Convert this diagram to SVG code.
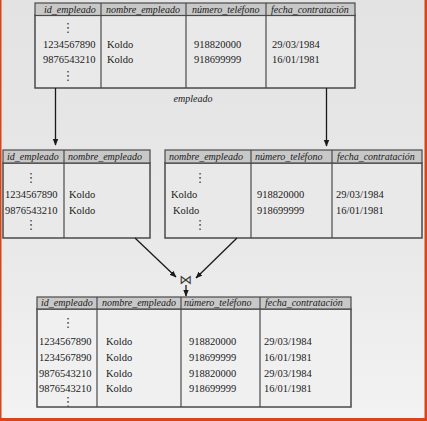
<svg xmlns="http://www.w3.org/2000/svg" width="427" height="421" viewBox="0 0 427 421">
  <defs>
    <linearGradient id="bg" x1="0" y1="0" x2="0" y2="1">
      <stop offset="0" stop-color="#e3e3e3"/>
      <stop offset="0.6" stop-color="#e9e9e9"/>
      <stop offset="1" stop-color="#f3f3f3"/>
    </linearGradient>
    <marker id="ah" viewBox="0 0 10 10" refX="9" refY="5" markerWidth="7" markerHeight="7" orient="auto" markerUnits="userSpaceOnUse">
      <path d="M0,1 L10,5 L0,9 Z" fill="#1a1a1a"/>
    </marker>
  </defs>
  <style>
    .hd { fill: #c8c8c8; stroke: #4a4a4a; stroke-width: 1.2; }
    .bd { fill: #e9e9e9; stroke: #4a4a4a; stroke-width: 1.5; }
    .bd2 { fill: #f0f0f0; stroke: #4a4a4a; stroke-width: 1.5; }
    .col { stroke: #4a4a4a; stroke-width: 1.2; }
    .h { font-family: "Liberation Serif", "Times New Roman", serif; font-style: italic; font-size: 10px; fill: #1a1a1a; }
    .t { font-family: "Liberation Serif", "Times New Roman", serif; font-size: 10.5px; fill: #1a1a1a; }
    .v { font-family: "DejaVu Sans", sans-serif; font-size: 13px; fill: #444; text-anchor: middle; }
    .lbl { font-family: "Liberation Serif", "Times New Roman", serif; font-style: italic; font-size: 10px; fill: #1a1a1a; text-anchor: middle; }
    .conn { stroke: #1a1a1a; stroke-width: 1.3; fill: none; }
  </style>

  <!-- backdrop and frame -->
  <rect x="0" y="0" width="427" height="421" fill="url(#bg)"/>
  <rect x="0" y="0" width="1.5" height="421" fill="#d8451b"/>
  <rect x="424.5" y="0" width="2.5" height="421" fill="#d8451b"/>
  <rect x="0" y="418" width="427" height="3" fill="#d8451b"/>

  <!-- source relation: empleado -->
  <g id="empleado">
    <rect class="bd" x="35" y="15" width="320" height="73"/>
    <rect class="hd" x="35" y="3" width="320" height="12.5"/>
    <line class="col" x1="101" y1="3" x2="101" y2="88"/>
    <line class="col" x1="186" y1="3" x2="186" y2="88"/>
    <line class="col" x1="266" y1="3" x2="266" y2="88"/>
    <text class="h" x="44" y="12.5">id_empleado</text>
    <text class="h" x="106" y="12.5">nombre_empleado</text>
    <text class="h" x="192" y="12.5">número_teléfono</text>
    <text class="h" x="271" y="12.5">fecha_contratación</text>
    <text class="v" x="68" y="32">⋮</text>
    <text class="t" x="43" y="48">1234567890</text>
    <text class="t" x="43" y="63">9876543210</text>
    <text class="v" x="68" y="80">⋮</text>
    <text class="t" x="107" y="48">Koldo</text>
    <text class="t" x="107" y="63">Koldo</text>
    <text class="t" x="194" y="48">918820000</text>
    <text class="t" x="194" y="63">918699999</text>
    <text class="t" x="272" y="48">29/03/1984</text>
    <text class="t" x="272" y="63">16/01/1981</text>
    <text class="lbl" x="193" y="102">empleado</text>
  </g>

  <!-- projection on id_empleado, nombre_empleado -->
  <g id="proj-left">
    <rect class="bd" x="3" y="163" width="147" height="75"/>
    <rect class="hd" x="3" y="150" width="147" height="13"/>
    <line class="col" x1="64" y1="150" x2="64" y2="238"/>
    <text class="h" x="7" y="160">id_empleado</text>
    <text class="h" x="68" y="160">nombre_empleado</text>
    <text class="v" x="31" y="182">⋮</text>
    <text class="t" x="5" y="198">1234567890</text>
    <text class="t" x="5" y="214">9876543210</text>
    <text class="v" x="31" y="229">⋮</text>
    <text class="t" x="69" y="198">Koldo</text>
    <text class="t" x="69" y="214">Koldo</text>
  </g>

  <!-- projection on nombre_empleado, número_teléfono, fecha_contratación -->
  <g id="proj-right">
    <rect class="bd" x="165" y="163" width="257" height="75"/>
    <rect class="hd" x="165" y="150" width="257" height="13"/>
    <line class="col" x1="251" y1="150" x2="251" y2="238"/>
    <line class="col" x1="332" y1="150" x2="332" y2="238"/>
    <text class="h" x="169" y="160">nombre_empleado</text>
    <text class="h" x="255" y="160">número_teléfono</text>
    <text class="h" x="337" y="160">fecha_contratación</text>
    <text class="v" x="200" y="182">⋮</text>
    <text class="t" x="171" y="198">Koldo</text>
    <text class="t" x="173" y="214">Koldo</text>
    <text class="v" x="200" y="229">⋮</text>
    <text class="t" x="257" y="198">918820000</text>
    <text class="t" x="257" y="214">918699999</text>
    <text class="t" x="336" y="198">29/03/1984</text>
    <text class="t" x="336" y="214">16/01/1981</text>
  </g>

  <!-- natural join operator -->
  <g id="join">
    <text x="186" y="284" font-family="DejaVu Sans, sans-serif" font-size="13" fill="#3a3a3a" text-anchor="middle">⋈</text>
  </g>

  <!-- joined result -->
  <g id="result">
    <rect class="bd2" x="37" y="309" width="314" height="98"/>
    <rect class="hd" x="37" y="297" width="314" height="12"/>
    <line class="col" x1="97" y1="297" x2="97" y2="407"/>
    <line class="col" x1="181" y1="297" x2="181" y2="407"/>
    <line class="col" x1="260" y1="297" x2="260" y2="407"/>
    <text class="h" x="41" y="306">id_empleado</text>
    <text class="h" x="102" y="306">nombre_empleado</text>
    <text class="h" x="184" y="306">número_teléfono</text>
    <text class="h" x="265" y="306">fecha_contratación</text>
    <text class="v" x="68" y="327">⋮</text>
    <text class="t" x="39" y="345">1234567890</text>
    <text class="t" x="39" y="361">1234567890</text>
    <text class="t" x="39" y="377">9876543210</text>
    <text class="t" x="39" y="392">9876543210</text>
    <text class="v" x="68" y="406">⋮</text>
    <text class="t" x="106" y="345">Koldo</text>
    <text class="t" x="106" y="361">Koldo</text>
    <text class="t" x="106" y="377">Koldo</text>
    <text class="t" x="106" y="392">Koldo</text>
    <text class="t" x="189" y="345">918820000</text>
    <text class="t" x="189" y="361">918699999</text>
    <text class="t" x="189" y="377">918820000</text>
    <text class="t" x="189" y="392">918699999</text>
    <text class="t" x="264" y="345">29/03/1984</text>
    <text class="t" x="264" y="361">16/01/1981</text>
    <text class="t" x="264" y="377">29/03/1984</text>
    <text class="t" x="264" y="392">16/01/1981</text>
  </g>

  <!-- connectors -->
  <g id="connectors">
    <line class="conn" x1="55.5" y1="88" x2="55.5" y2="145" marker-end="url(#ah)"/>
    <line class="conn" x1="326.5" y1="88" x2="326.5" y2="146" marker-end="url(#ah)"/>
    <line class="conn" x1="135" y1="238" x2="176" y2="277" marker-end="url(#ah)"/>
    <line class="conn" x1="237" y1="238" x2="196" y2="278" marker-end="url(#ah)"/>
    <line class="conn" x1="186" y1="285" x2="186" y2="296" marker-end="url(#ah)"/>
  </g>
</svg>
